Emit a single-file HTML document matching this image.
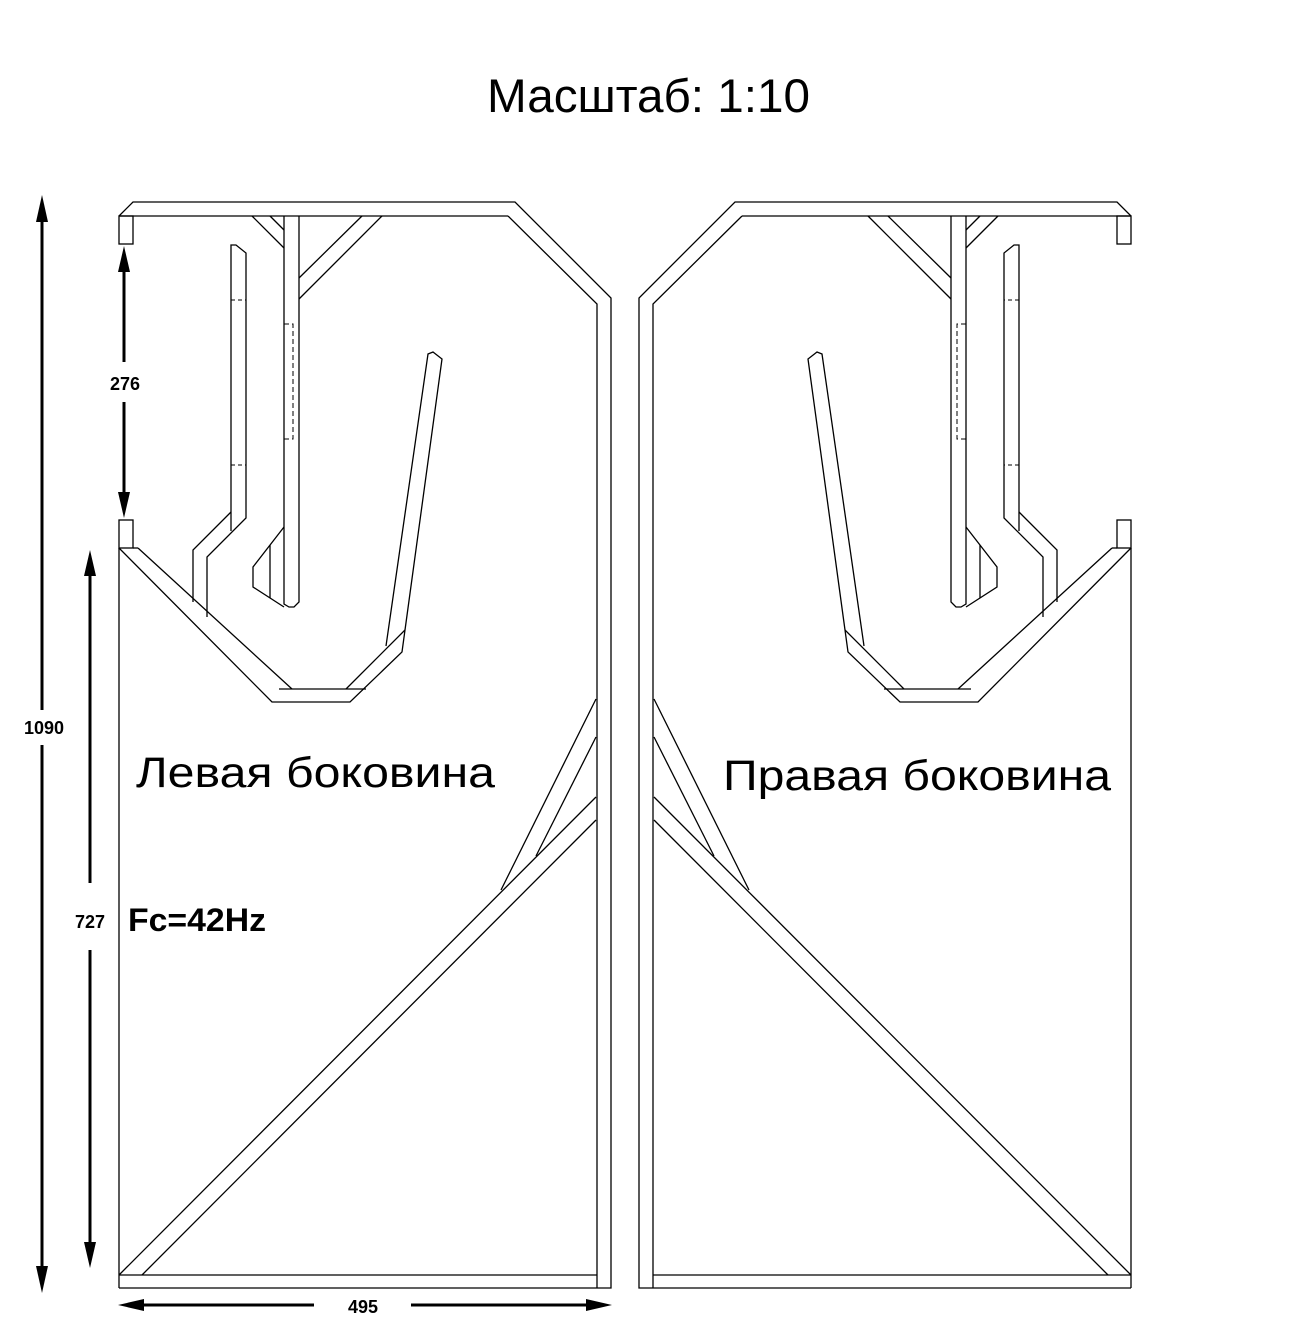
<!DOCTYPE html>
<html><head><meta charset="utf-8"><style>
html,body{margin:0;padding:0;background:#fff;}
svg{display:block;}
text{font-family:"Liberation Sans",sans-serif;fill:#000;}
</style></head><body>
<svg width="1300" height="1326" viewBox="0 0 1300 1326" xmlns="http://www.w3.org/2000/svg">
<defs>
<g id="panel" fill="none" stroke="#000" stroke-width="1.3">
  <polyline points="119,216 133,202 515,202 611,298 611,1288 119,1288"/>
  <line x1="119" y1="216" x2="508" y2="216"/>
  <polyline points="508,216 597,304 597,1288"/>
  <rect x="119" y="216" width="14" height="28"/>
  <rect x="119" y="520" width="14" height="28"/>
  <line x1="133" y1="548" x2="138" y2="548"/>
  <line x1="119" y1="548" x2="119" y2="1288"/>
  <line x1="119" y1="1275" x2="597" y2="1275"/>
  <polyline points="119,548 272,702 350,702 402,652 405,630"/>
  <polyline points="138,548 292,689"/>
  <line x1="279" y1="689" x2="366" y2="689"/>
  <line x1="346" y1="689" x2="405" y2="630"/>
  <polyline points="386,646 428,354 433,352 442,359 405,630"/>
  <polyline points="284,216 284,604 289,607 294,607 299,602 299,216"/>
  <rect x="284" y="324" width="9" height="115" stroke-dasharray="5,3" stroke-width="1"/>
  <polyline points="284,527 253,567 253,587 284,607"/>
  <line x1="270" y1="545" x2="270" y2="598"/>
  <line x1="252" y1="216" x2="284" y2="248"/>
  <line x1="270" y1="216" x2="284" y2="230"/>
  <line x1="362" y1="216" x2="299" y2="278"/>
  <line x1="382" y1="216" x2="299" y2="299"/>
  <polyline points="231,531 231,245 236,245 246,253 246,518 207,557 207,617"/>
  <polyline points="231,512 193,550 193,602"/>
  <line x1="231" y1="300" x2="246" y2="300" stroke-dasharray="4,3" stroke-width="1"/>
  <line x1="231" y1="465" x2="246" y2="465" stroke-dasharray="4,3" stroke-width="1"/>
  <line x1="596" y1="699" x2="501" y2="890"/>
  <line x1="596" y1="737" x2="536" y2="856"/>
  <line x1="596" y1="797" x2="119" y2="1275"/>
  <line x1="596" y1="820" x2="142" y2="1275"/>
</g>
</defs>
<use href="#panel"/>
<use href="#panel" transform="translate(1250,0) scale(-1,1)"/>

<text x="487" y="112" font-size="47" textLength="323" lengthAdjust="spacingAndGlyphs">Масштаб: 1:10</text>
<text x="136" y="787" font-size="43" textLength="359" lengthAdjust="spacingAndGlyphs">Левая боковина</text>
<text x="723" y="790" font-size="43" textLength="388" lengthAdjust="spacingAndGlyphs">Правая боковина</text>
<text x="128" y="931" font-size="32" font-weight="bold" textLength="138" lengthAdjust="spacingAndGlyphs">Fc=42Hz</text>

<g stroke="#000" stroke-width="3" fill="#000">
  <line x1="42" y1="215" x2="42" y2="710"/>
  <line x1="42" y1="745" x2="42" y2="1272"/>
  <polygon points="42,195 36,222 48,222" stroke="none"/>
  <polygon points="42,1293 36,1266 48,1266" stroke="none"/>
  <line x1="124" y1="268" x2="124" y2="362"/>
  <line x1="124" y1="402" x2="124" y2="495"/>
  <polygon points="124,246 118,272 130,272" stroke="none"/>
  <polygon points="124,518 118,492 130,492" stroke="none"/>
  <line x1="90" y1="570" x2="90" y2="883"/>
  <line x1="90" y1="950" x2="90" y2="1248"/>
  <polygon points="90,550 84,576 96,576" stroke="none"/>
  <polygon points="90,1268 84,1242 96,1242" stroke="none"/>
  <line x1="140" y1="1305" x2="314" y2="1305"/>
  <line x1="411" y1="1305" x2="590" y2="1305"/>
  <polygon points="118,1305 144,1299 144,1311" stroke="none"/>
  <polygon points="612,1305 586,1299 586,1311" stroke="none"/>
</g>
<g font-weight="bold" font-size="18" text-anchor="middle">
  <text x="44" y="734">1090</text>
  <text x="125" y="390">276</text>
  <text x="90" y="928">727</text>
  <text x="363" y="1313">495</text>
</g>
</svg>
</body></html>
